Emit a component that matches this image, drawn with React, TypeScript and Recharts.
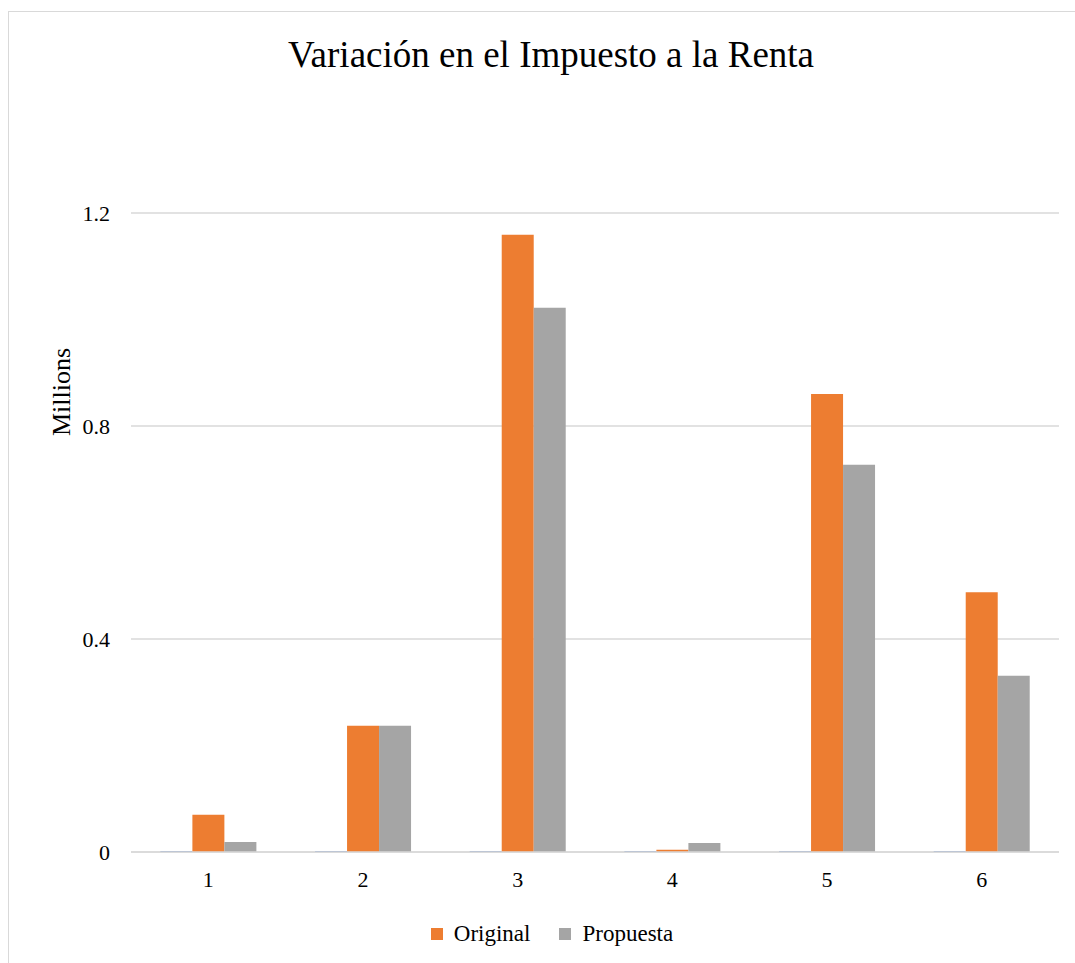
import React from 'react';
import { BarChart, Bar, XAxis, YAxis, CartesianGrid, Legend } from 'recharts';

const categories = ['1', '2', '3', '4', '5', '6'];
const nivel = [0.0015, 0.0015, 0.0015, 0.0015, 0.0015, 0.0015];
const original = [0.07, 0.237, 1.159, 0.004, 0.86, 0.488];
const propuesta = [0.019, 0.237, 1.022, 0.017, 0.727, 0.331];
const yTicks = [0, 0.4, 0.8, 1.2];

const data = categories.map((c, i) => ({
  cat: c,
  nivel: nivel[i],
  Original: original[i],
  Propuesta: propuesta[i],
}));

const FONT = '"Liberation Serif", "Times New Roman", serif';

const LegendContent = (props: any) => {
  const items = (props.payload || []).filter((p: any) => p.type !== 'none');
  return (
    <div style={{ display: 'flex', justifyContent: 'center', alignItems: 'center', fontFamily: FONT, fontSize: 23, color: '#000', height: 26 }}>
      {items.map((p: any, i: number) => (
        <div key={i} style={{ display: 'flex', alignItems: 'center', marginLeft: i === 0 ? 0 : 29 }}>
          <span style={{ display: 'inline-block', width: 12, height: 12, background: p.color, marginRight: 11 }} />
          <span>{p.value}</span>
        </div>
      ))}
    </div>
  );
};

export default function App() {
  return (
    <div
      style={{
        position: 'absolute',
        left: 8,
        top: 11,
        width: 1067,
        height: 952,
        boxSizing: 'border-box',
        borderTop: '1px solid #d9d9d9',
        borderLeft: '1px solid #d9d9d9',
        background: '#fff',
        fontFamily: FONT,
      }}
    >
      <div
        style={{
          position: 'absolute',
          left: 0,
          width: 1084,
          top: 21,
          textAlign: 'center',
          fontSize: 37,
          lineHeight: '44px',
          color: '#000',
          fontFamily: FONT,
        }}
      >
        Variación en el Impuesto a la Renta
      </div>
      <div
        style={{
          position: 'absolute',
          left: 53 - 60,
          top: 380 - 15,
          width: 120,
          height: 30,
          lineHeight: '30px',
          textAlign: 'center',
          fontSize: 26,
          color: '#000',
          transform: 'rotate(-90deg)',
          fontFamily: FONT,
        }}
      >
        Millions
      </div>
      <BarChart
        width={1066}
        height={951}
        data={data}
        margin={{ top: 201, right: 16, bottom: 0, left: 0 }}
        barCategoryGap="19%"
        barGap={0}
      >
        <CartesianGrid vertical={false} stroke="#d9d9d9" strokeWidth={1.3} />
        <XAxis
          dataKey="cat"
          axisLine={{ stroke: '#d9d9d9', strokeWidth: 1.3 }}
          tickLine={false}
          tickSize={0}
          tickMargin={19}
          height={85}
          tick={{ fill: '#000', fontSize: 22, fontFamily: FONT }}
        />
        <YAxis
          width={122}
          domain={[0, 1.2]}
          ticks={yTicks}
          axisLine={false}
          tickLine={false}
          tickSize={0}
          tickMargin={21}
          tick={{ fill: '#000', fontSize: 22, fontFamily: FONT }}
        />
        <Legend
          verticalAlign="bottom"
          content={<LegendContent />}
          wrapperStyle={{ position: 'absolute', left: 10, width: 1066, top: 909, bottom: 'auto' }}
        />
        <Bar dataKey="nivel" fill="#4472C4" legendType="none" isAnimationActive={false} />
        <Bar dataKey="Original" fill="#ED7D31" isAnimationActive={false} />
        <Bar dataKey="Propuesta" fill="#A5A5A5" isAnimationActive={false} />
      </BarChart>
    </div>
  );
}
